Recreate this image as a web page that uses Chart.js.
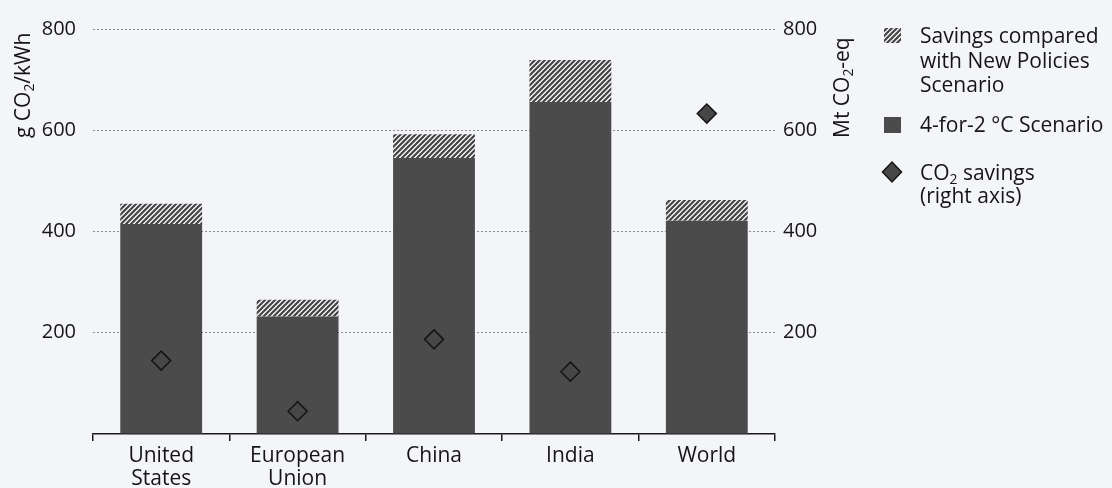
<!DOCTYPE html>
<html>
<head>
<meta charset="utf-8">
<script src="https://cdn.jsdelivr.net/npm/chart.js@4.4.1/dist/chart.umd.min.js"></script>
<style>
  html, body { margin: 0; padding: 0; background: #f4f5f8; }
  #wrap { width: 1112px; height: 488px; position: relative; }
</style>
</head>
<body>
<div id="wrap"><canvas id="c" width="1112" height="488"></canvas></div>
<script>
// Emission intensity of power generation (g CO2/kWh) and CO2 savings (Mt CO2-eq)
const categories = [['United', 'States'], ['European', 'Union'], 'China', 'India', 'World'];
const scenario42 = [415, 232, 545, 656, 421];      // 4-for-2 °C Scenario
const savingsNPS = [40, 33, 47, 83, 41];           // extra vs New Policies Scenario
const co2Savings = [145, 45, 187, 123, 633];       // right axis, Mt CO2-eq
const axisTicks = [0, 200, 400, 600, 800];

const legendLabels = [
  ['Savings compared', 'with New Policies', 'Scenario'],
  ['4-for-2 °C Scenario'],
  ['CO₂ savings', '(right axis)']
];
const leftTitle = 'g CO₂/kWh';
const rightTitle = 'Mt CO₂-eq';

const FONT = '"Open Sans"';
const TEXT = '#151515';
const BAR = '#4b4b4b';
const FS = 21;

function makeHatch() {
  const s = 5;
  const c = document.createElement('canvas');
  c.width = s; c.height = s;
  const g = c.getContext('2d');
  g.fillStyle = '#fafafa';
  g.fillRect(0, 0, s, s);
  g.strokeStyle = '#444';
  g.lineWidth = 2.2;
  g.beginPath();
  g.moveTo(0, s); g.lineTo(s, 0);
  g.moveTo(-1, 1); g.lineTo(1, -1);
  g.moveTo(s - 1, s + 1); g.lineTo(s + 1, s - 1);
  g.stroke();
  return g.createPattern(c, 'repeat');
}
const hatch = makeHatch();

// Text with a lowered small "2" for the ₂ subscript
function richWidth(ctx, text, size) {
  let w = 0;
  for (const part of text.split(/(₂)/)) {
    if (!part) continue;
    if (part === '₂') { ctx.font = `${size * 0.66}px ${FONT}`; w += ctx.measureText('2').width; }
    else { ctx.font = `${size}px ${FONT}`; w += ctx.measureText(part).width; }
  }
  return w;
}
function drawRich(ctx, text, x, y, size, align) {
  const w = richWidth(ctx, text, size);
  let cx = align === 'right' ? x - w : (align === 'center' ? x - w / 2 : x);
  ctx.textAlign = 'left';
  ctx.textBaseline = 'alphabetic';
  for (const part of text.split(/(₂)/)) {
    if (!part) continue;
    if (part === '₂') {
      ctx.font = `${size * 0.66}px ${FONT}`;
      ctx.fillText('2', cx, y + size * 0.2);
      cx += ctx.measureText('2').width;
    } else {
      ctx.font = `${size}px ${FONT}`;
      ctx.fillText(part, cx, y);
      cx += ctx.measureText(part).width;
    }
  }
}

const titlesAndLegend = {
  id: 'titlesAndLegend',
  afterDraw(chart) {
    const ctx = chart.ctx;
    ctx.save();
    ctx.fillStyle = TEXT;
    // axis titles, read bottom to top
    ctx.save();
    ctx.translate(30, 138);
    ctx.rotate(-Math.PI / 2);
    drawRich(ctx, leftTitle, 0, 0, FS, 'left');
    ctx.restore();
    ctx.save();
    ctx.translate(849, 138);
    ctx.rotate(-Math.PI / 2);
    drawRich(ctx, rightTitle, 0, 0, FS, 'left');
    ctx.restore();

    // legend
    const tx = 920;
    const ds = chart.data.datasets;
    // hatched swatch
    ctx.fillStyle = ds[1].backgroundColor;
    ctx.fillRect(884, 28, 17, 15);
    ctx.fillStyle = TEXT;
    legendLabels[0].forEach((t, i) => drawRich(ctx, t, tx, 43 + i * 24.5, FS, 'left'));
    // solid swatch
    ctx.fillStyle = ds[0].backgroundColor;
    ctx.fillRect(884, 117, 17, 16);
    ctx.fillStyle = TEXT;
    legendLabels[1].forEach((t, i) => drawRich(ctx, t, tx, 132 + i * 23, FS, 'left'));
    // diamond swatch
    ctx.beginPath();
    ctx.moveTo(892, 162); ctx.lineTo(901.5, 172); ctx.lineTo(892, 182); ctx.lineTo(882.5, 172);
    ctx.closePath();
    ctx.fillStyle = ds[2].pointBackgroundColor;
    ctx.fill();
    ctx.lineWidth = 1.5;
    ctx.strokeStyle = ds[2].pointBorderColor;
    ctx.stroke();
    ctx.fillStyle = TEXT;
    legendLabels[2].forEach((t, i) => drawRich(ctx, t, tx, 180 + i * 23, FS, 'left'));
    ctx.restore();
  }
};

const tickFont = { family: 'Open Sans', size: 20 };
const hideZero = v => (v === 0 ? '' : v);

new Chart(document.getElementById('c'), {
  data: {
    labels: categories,
    datasets: [
      {
        type: 'bar', label: '4-for-2 °C Scenario', data: scenario42,
        backgroundColor: BAR, stack: 's', order: 2,
        categoryPercentage: 1, barPercentage: 0.6, borderWidth: 0
      },
      {
        type: 'bar', label: 'Savings compared with New Policies Scenario', data: savingsNPS,
        backgroundColor: hatch, stack: 's', order: 2,
        categoryPercentage: 1, barPercentage: 0.6, borderWidth: 0
      },
      {
        type: 'line', label: 'CO₂ savings (right axis)', data: co2Savings, yAxisID: 'y2',
        showLine: false, order: 0,
        pointStyle: 'rectRot', pointRadius: 9.5,
        pointBackgroundColor: '#474747', pointBorderColor: '#151515', pointBorderWidth: 1.6
      }
    ]
  },
  options: {
    responsive: false,
    animation: false,
    layout: { padding: { top: 25, right: 277, left: 0, bottom: 0 } },
    plugins: { legend: { display: false }, tooltip: { enabled: false } },
    scales: {
      x: {
        stacked: true,
        offset: true,
        grid: { offset: true, drawOnChartArea: false, tickLength: 7, color: '#1a1a1a', lineWidth: 1.5 },
        border: { color: '#1a1a1a', width: 1.5 },
        ticks: { color: TEXT, font: { family: 'Open Sans', size: FS, lineHeight: 1.1 }, padding: 3, maxRotation: 0, autoSkip: false },
        afterFit: s => { s.height = 54; }
      },
      y: {
        stacked: true,
        position: 'left',
        min: 0, max: 800,
        afterBuildTicks: s => { s.ticks = axisTicks.map(v => ({ value: v })); },
        ticks: { color: TEXT, font: tickFont, padding: 17, callback: hideZero },
        grid: {
          color: c => (c.tick && c.tick.value === 0 ? 'rgba(0,0,0,0)' : '#8c8c8c'),
          lineWidth: 1, drawTicks: false
        },
        border: { display: false, dash: [2, 2] },
        afterFit: s => { s.width = 93; }
      },
      y2: {
        position: 'right',
        min: 0, max: 800,
        afterBuildTicks: s => { s.ticks = axisTicks.map(v => ({ value: v })); },
        ticks: { color: TEXT, font: tickFont, padding: 8, callback: hideZero },
        grid: { display: false, drawTicks: false },
        border: { display: false },
        afterFit: s => { s.width = 60; }
      }
    }
  },
  plugins: [titlesAndLegend]
});
</script>
</body>
</html>
